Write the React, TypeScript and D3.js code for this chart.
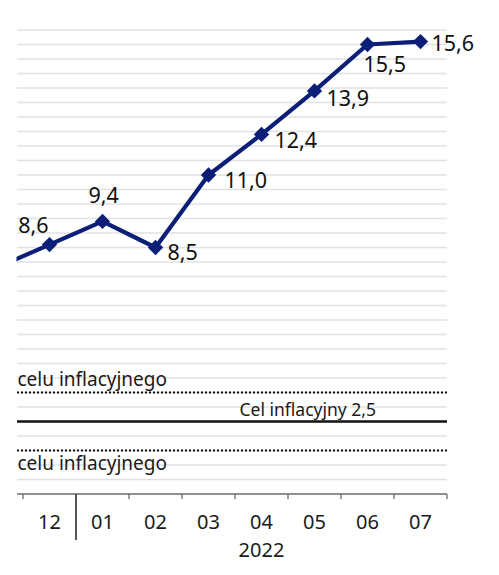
import React from "react";
import * as d3 from "d3";

const months = ["11", "12", "01", "02", "03", "04", "05", "06", "07"];
const cpiValues = [7.8, 8.6, 9.4, 8.5, 11.0, 12.4, 13.9, 15.5, 15.6];
const valueLabels = ["", "8,6", "9,4", "8,5", "11,0", "12,4", "13,9", "15,5", "15,6"];
const yearLabel = "2022";
const targetValue = 2.5;
const upperBand = 3.5;
const lowerBand = 1.5;
const targetLabel = "Cel inflacyjny 2,5";
const upperLabel = "Górna granica odchyleń od celu inflacyjnego";
const lowerLabel = "Dolna granica odchyleń od celu inflacyjnego";

// label placement offsets (dx, dy, anchor) – presentation only
const labelPlacement: [number, number, string][] = [
  [0, 0, "start"],
  [-1, -12, "end"],
  [-14, -18, "start"],
  [12, 12, "start"],
  [16, 13, "start"],
  [13, 14, "start"],
  [12, 15, "start"],
  [-4, 27, "start"],
  [11, 9, "start"],
];

const W = 499;
const H = 575;
const FONT = "'Noto Sans', 'Open Sans', sans-serif";
const NAVY = "#0b1f78";

export default function App() {
  const step = 53;
  const x = d3.scalePoint<string>().domain(months).range([-3.5, -3.5 + step * (months.length - 1)]);
  const y = d3.scaleLinear().domain([0, 16]).range([494, 30]);
  const left = 17;
  const right = 447;

  const gridVals = d3.range(0.5, 16.01, 0.5);
  const line = d3
    .line<number>()
    .x((_, i) => x(months[i]) as number)
    .y((d) => y(d));

  const boundaries = months.map((m) => (x(m) as number) + step / 2).filter((b) => b > left);
  const yearStart = (x("01") as number) - step / 2;
  const diamond = d3.symbol().type(d3.symbolDiamond2).size(150)();

  return (
    <svg width={W} height={H} style={{ position: "absolute", left: 0, top: 0 }} fontFamily={FONT}>
      <defs>
        <clipPath id="clip">
          <rect x={16.5} y={0} width={W} height={H} />
        </clipPath>
      </defs>
      <rect width={W} height={H} fill="#fff" />
      <g clipPath="url(#clip)">
        {gridVals.map((v) => (
          <line key={v} x1={left} x2={right} y1={y(v)} y2={y(v)} stroke="#e2e2e2" strokeWidth={1.5} />
        ))}
        <line x1={left} x2={right} y1={y(upperBand)} y2={y(upperBand)} stroke="#111" strokeWidth={2} strokeDasharray="2,2" />
        <line x1={left} x2={right} y1={y(lowerBand)} y2={y(lowerBand)} stroke="#111" strokeWidth={2} strokeDasharray="2,2" />
        <line x1={left} x2={right} y1={y(targetValue)} y2={y(targetValue)} stroke="#111" strokeWidth={2.5} />
        <text x={376} y={y(targetValue) - 6} textAnchor="end" fontSize={17.5} fill="#1a1a1a">
          {targetLabel}
        </text>
        <text x={167} y={y(upperBand) - 7} textAnchor="end" fontSize={19} fill="#1a1a1a">
          {upperLabel}
        </text>
        <text x={167} y={y(lowerBand) + 19} textAnchor="end" fontSize={19} fill="#1a1a1a">
          {lowerLabel}
        </text>

        {/* axis */}
        <line x1={left} x2={right} y1={494} y2={494} stroke="#6a6a6a" strokeWidth={1.5} />
        {boundaries.map((b, i) =>
          Math.abs(b - yearStart) < 0.5 ? null : (
            <line key={i} x1={b} x2={b} y1={494} y2={499} stroke="#6a6a6a" strokeWidth={1.3} />
          )
        )}
        <line x1={yearStart} x2={yearStart} y1={494} y2={540} stroke="#555" strokeWidth={2} />
        {months.map((m) =>
          (x(m) as number) < left ? null : (
            <text key={"l" + m} x={x(m) as number} y={529} textAnchor="middle" fontSize={20} fill="#1a1a1a">
              {m}
            </text>
          )
        )}
        <text x={(yearStart + right) / 2} y={557} textAnchor="middle" fontSize={20} fill="#1a1a1a">
          {yearLabel}
        </text>

        {/* series */}
        <path d={line(cpiValues) || ""} fill="none" stroke={NAVY} strokeWidth={4.2} strokeLinejoin="round" />
        {cpiValues.map((v, i) => (
          <path key={"m" + i} d={diamond || ""} transform={`translate(${x(months[i])},${y(v)})`} fill={NAVY} />
        ))}
        {cpiValues.map((v, i) =>
          valueLabels[i] ? (
            <text
              key={"v" + i}
              x={(x(months[i]) as number) + labelPlacement[i][0]}
              y={y(v) + labelPlacement[i][1]}
              textAnchor={labelPlacement[i][2] as any}
              fontSize={21.5}
              fill="#111"
            >
              {valueLabels[i]}
            </text>
          ) : null
        )}
      </g>
    </svg>
  );
}
